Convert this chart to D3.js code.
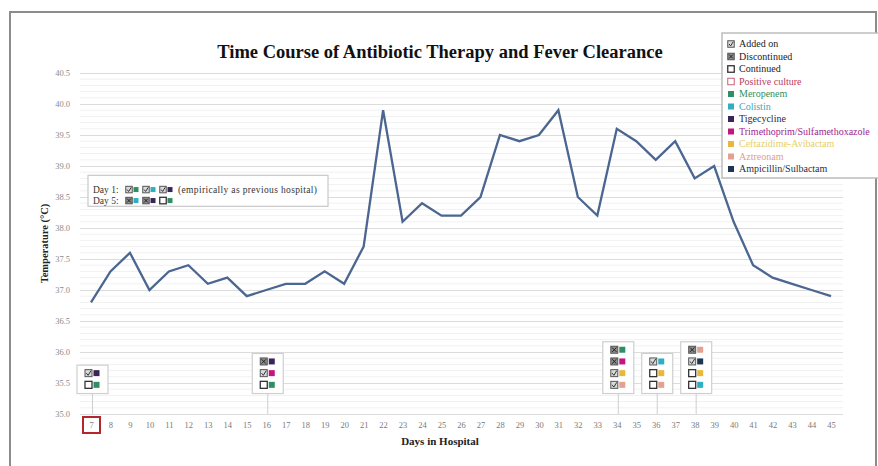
<!DOCTYPE html>
<html><head><meta charset="utf-8">
<script src="https://cdn.jsdelivr.net/npm/d3@7"></script>
<style>html,body{margin:0;padding:0;background:#fff;}svg{display:block;}</style>
</head><body>
<svg id="c" width="878" height="466"></svg>
<script>
// ---------- data ----------
const days = [7,8,9,10,11,12,13,14,15,16,17,18,19,20,21,22,23,24,25,26,27,28,29,30,31,32,33,34,35,36,37,38,39,40,41,42,43,44,45];
const temps = [36.8,37.3,37.6,37.0,37.3,37.4,37.1,37.2,36.9,37.0,37.1,37.1,37.3,37.1,37.7,39.9,38.1,38.4,38.2,38.2,38.5,39.5,39.4,39.5,39.9,38.5,38.2,39.6,39.4,39.1,39.4,38.8,39.0,38.1,37.4,37.2,37.1,37.0,36.9];
const yTicks = [35.0,35.5,36.0,36.5,37.0,37.5,38.0,38.5,39.0,39.5,40.0,40.5];
const drugs = ["Meropenem","Colistin","Tigecycline","Trimethoprim/Sulfamethoxazole","Ceftazidime-Avibactam","Aztreonam","Ampicillin/Sulbactam"];
const drugColors = ["#2f8f62","#2fb0c2","#3b2456","#c2157f","#e9b83a","#e2a191","#1c3650"];
const drugTextColors = ["#2f8f62","#3aa9bb","#2a2a3a","#a1258c","#e6cf66","#dea08e","#1f3048"];
const statusLabels = ["Added on","Discontinued","Continued","Positive culture"];
const statusKeys = ["added","disc","cont","culture"];
const statusTextColors = ["#222","#222","#222","#b8405e"];
// events: day -> rows of [status, drug]
const eventDays = [7,16,34,36,38];
const eventRows = [
  [["added","Tigecycline"],["cont","Meropenem"]],
  [["disc","Tigecycline"],["added","Trimethoprim/Sulfamethoxazole"],["cont","Meropenem"]],
  [["disc","Meropenem"],["disc","Trimethoprim/Sulfamethoxazole"],["added","Ceftazidime-Avibactam"],["added","Aztreonam"]],
  [["added","Colistin"],["cont","Ceftazidime-Avibactam"],["cont","Aztreonam"]],
  [["disc","Aztreonam"],["added","Ampicillin/Sulbactam"],["cont","Ceftazidime-Avibactam"],["cont","Colistin"]]
];
const noteLabels = ["Day 1:","Day 5:"];
const noteRows = [
  [["added","Meropenem"],["added","Colistin"],["added","Tigecycline"]],
  [["disc","Colistin"],["disc","Tigecycline"],["cont","Meropenem"]]
];
const noteSuffix = ["(empirically as previous hospital)",""];
const highlightDay = 7;

// ---------- chart ----------
const svg = d3.select("#c");
const serif = "'Liberation Serif','Times New Roman',serif";
const x = d3.scalePoint().domain(days).range([91, 831]);
const y = d3.scaleLinear().domain([35.0, 40.5]).range([414, 73]);
const drugColor = d3.scaleOrdinal().domain(drugs).range(drugColors);

// outer frame
svg.append("rect").attr("x",10).attr("y",12).attr("width",866).attr("height",480)
  .attr("fill","none").attr("stroke","#8c8c8c").attr("stroke-width",2);

// minor grid
const minor = d3.range(350, 406, 1).map(v => v/10).filter(v => Math.abs(v*2 - Math.round(v*2)) > 1e-6);
svg.append("g").selectAll("line").data(minor).join("line")
  .attr("x1",80).attr("x2",843).attr("y1",d=>y(d)).attr("y2",d=>y(d))
  .attr("stroke","#f1f1f1").attr("stroke-width",1);
// major grid via axis
const yAxis = svg.append("g").attr("transform","translate(80,0)")
  .call(d3.axisLeft(y).tickValues(yTicks).tickFormat(d3.format(".1f")).tickSize(-763).tickPadding(10));
yAxis.select(".domain").remove();
yAxis.selectAll(".tick line").attr("stroke","#dcdcdc").attr("stroke-width",1);
yAxis.selectAll(".tick text").attr("fill","#8a8a8a").attr("font-family",serif).attr("font-size",8.5);

// x axis labels
const xAxis = svg.append("g").attr("transform",`translate(0,${y(35.0)})`)
  .call(d3.axisBottom(x).tickSize(0).tickPadding(8));
xAxis.select(".domain").remove();
xAxis.selectAll(".tick text").attr("fill","#7a7a7a").attr("font-family",serif).attr("font-size",8.5);

// red highlight box around day 7
svg.append("rect").attr("x",x(highlightDay)-8).attr("y",y(35.0)+3).attr("width",17).attr("height",16)
  .attr("fill","none").attr("stroke","#b3262b").attr("stroke-width",2);

// axis titles
svg.append("text").attr("x",440).attr("y",445).attr("text-anchor","middle")
  .attr("font-family",serif).attr("font-weight","bold").attr("font-size",11).attr("fill","#222").text("Days in Hospital");
svg.append("text").attr("transform",`translate(48,${y(37.75)}) rotate(-90)`).attr("text-anchor","middle")
  .attr("font-family",serif).attr("font-weight","bold").attr("font-size",10.5).attr("fill","#222").text("Temperature (°C)");

// title
svg.append("text").attr("x",440).attr("y",58).attr("text-anchor","middle")
  .attr("font-family",serif).attr("font-weight","bold").attr("font-size",18.5).attr("fill","#111")
  .text("Time Course of Antibiotic Therapy and Fever Clearance");

// temperature line
const line = d3.line().x((d,i)=>x(days[i])).y(d=>y(d));
svg.append("path").datum(temps).attr("d",line).attr("fill","none")
  .attr("stroke","#4b6690").attr("stroke-width",2.3).attr("stroke-linejoin","miter");

// ---------- icon helpers ----------
function statusIcon(g, cx, cy, status, s) {
  s = s || 7;
  const h = s/2;
  const fill = status === "disc" ? "#8d8d8d" : (status === "added" ? "#dadada" : "#fff");
  const stroke = status === "culture" ? "#c9607a" : (status === "cont" ? "#333" : "#555");
  g.append("rect").attr("x",cx-h).attr("y",cy-h).attr("width",s).attr("height",s)
    .attr("fill",fill).attr("stroke",stroke).attr("stroke-width",status==="cont"?1.3:1);
  if (status === "added") {
    g.append("path").attr("d",`M${cx-h+1.3},${cy} L${cx-0.4},${cy+h-1.3} L${cx+h-1},${cy-h+1}`)
      .attr("fill","none").attr("stroke","#333").attr("stroke-width",1);
  } else if (status === "disc") {
    g.append("path").attr("d",`M${cx-h+1.3},${cy-h+1.3} L${cx+h-1.3},${cy+h-1.3} M${cx+h-1.3},${cy-h+1.3} L${cx-h+1.3},${cy+h-1.3}`)
      .attr("fill","none").attr("stroke","#222").attr("stroke-width",1);
  }
}
function drugIcon(g, cx, cy, drug, s) {
  s = s || 6;
  g.append("rect").attr("x",cx-s/2).attr("y",cy-s/2).attr("width",s).attr("height",s)
    .attr("fill",drugColor(drug));
}

// ---------- event boxes ----------
const rowH = 11.7;
eventDays.forEach((d, i) => {
  const rows = eventRows[i];
  const cx = x(d) + 1.5;
  const bottom = y(35.33);
  const top = bottom - rows.length*rowH - 5;
  const g = svg.append("g");
  g.append("line").attr("x1",cx).attr("x2",cx).attr("y1",bottom).attr("y2",y(35.0))
    .attr("stroke","#cfcfcf").attr("stroke-width",1);
  g.append("rect").attr("x",cx-15.5).attr("y",top).attr("width",31).attr("height",bottom-top)
    .attr("fill","#fff").attr("stroke","#cfcfcf").attr("stroke-width",1.2);
  rows.forEach((r, j) => {
    const cy = top + 8 + j*rowH;
    statusIcon(g, cx-4, cy, r[0]);
    drugIcon(g, cx+4, cy, r[1]);
  });
});

// ---------- note box (Day 1 / Day 5) ----------
const note = svg.append("g");
note.append("rect").attr("x",88).attr("y",y(38.85)).attr("width",240).attr("height",y(38.35)-y(38.85))
  .attr("fill","#fff").attr("stroke","#c8c8c8").attr("stroke-width",1.2);
noteLabels.forEach((lab, i) => {
  const cy = y(38.62) + i*11;
  note.append("text").attr("x",93).attr("y",cy+3).attr("font-family",serif).attr("font-size",9.5)
    .attr("fill","#333").text(lab);
  let px = 129;
  noteRows[i].forEach(r => {
    statusIcon(note, px, cy, r[0], 6.5);
    drugIcon(note, px+7, cy, r[1], 5);
    px += 17;
  });
  if (noteSuffix[i]) {
    note.append("text").attr("x",px-2).attr("y",cy+3).attr("font-family",serif).attr("font-size",9.5)
      .attr("letter-spacing",0.35).attr("fill","#333").text(noteSuffix[i]);
  }
});

// ---------- legend ----------
const leg = svg.append("g");
leg.append("rect").attr("x",722).attr("y",33).attr("width",160).attr("height",145)
  .attr("fill","#fff").attr("stroke","#bdbdbd").attr("stroke-width",1.5);
const legItems = statusLabels.map((l,i)=>({label:l, type:"status", key:statusKeys[i], color:statusTextColors[i]}))
  .concat(drugs.map((dname,i)=>({label:dname, type:"drug", key:dname, color:drugTextColors[i]})));
legItems.forEach((it, i) => {
  const cy = 44 + i*12.5;
  if (it.type === "status") statusIcon(leg, 731, cy, it.key, 6.5);
  else drugIcon(leg, 731, cy, it.key, 6);
  leg.append("text").attr("x",739).attr("y",cy+3.3).attr("font-family",serif).attr("font-size",10)
    .attr("fill",it.color).text(it.label);
});
</script>
</body></html>
